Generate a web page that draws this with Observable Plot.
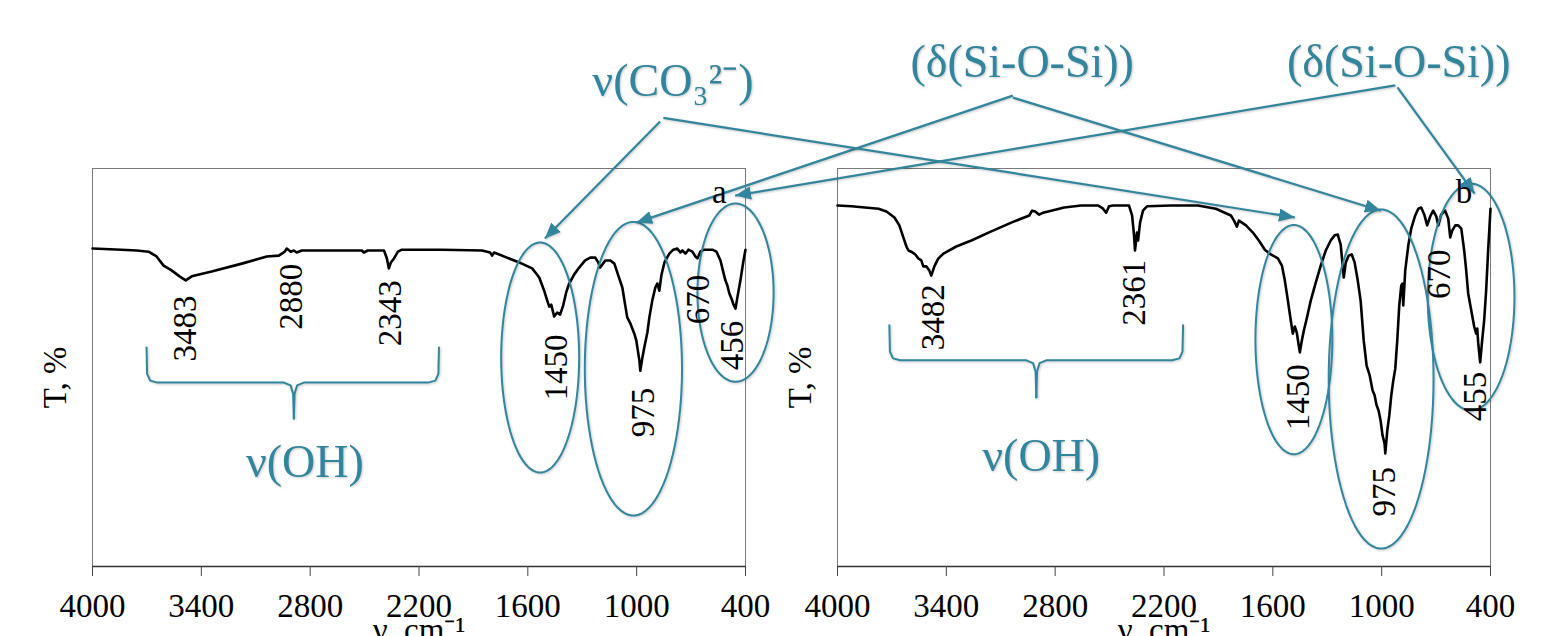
<!DOCTYPE html>
<html>
<head>
<meta charset="utf-8">
<script src="https://cdn.jsdelivr.net/npm/d3@7"></script>
<script src="https://cdn.jsdelivr.net/npm/@observablehq/plot@0.6"></script>
<style>
  html, body { margin: 0; padding: 0; background: #fff; }
</style>
</head>
<body>
<div id="chart"></div>
<script>
// ---------- data ----------
const panels = ["a", "b"];
const xTicks = [4000, 3400, 2800, 2200, 1600, 1000, 400];

// panel a spectrum (wavenumber, transmittance, arbitrary %)
const waveA = [4000,3840,3757,3691,3647,3608,3564,3520,3486,3453,
  3343,3177,3039,2973,2940,2929,2907,2890,2874,2846,
  2680,2515,2504,2482,2393,2377,2366,2355,2338,2316,
  2294,2073,1852,1808,1797,1786,1648,1576,1537,1510,
  1493,1482,1471,1455,1438,1422,1405,1389,1372,1344,
  1317,1284,1256,1228,1212,1201,1173,1145,1123,1101,
  1079,1063,1052,1035,1024,1013,1002,996,985,980,
  969,958,941,930,914,897,886,875,864,847,
  820,798,776,759,748,731,715,693,676,665,
  649,627,583,560,538,522,511,500,489,477,
  466,455,444,428,411,400];
const transA = [79.9,79.6,79.4,79.1,77.9,75.6,74.4,72.9,71.9,72.9,
  74.1,76.1,77.9,78.1,79.1,79.9,79.1,79.4,78.9,79.4,
  79.4,79.4,78.9,79.4,79.4,77.4,74.9,76.4,77.4,79.1,
  79.6,79.6,79.4,78.9,78.1,78.9,76.4,74.9,72.6,69.3,
  66.8,65.3,65.8,62.8,63.8,63.3,65.6,68.8,71.1,73.4,
  75.1,76.9,77.6,77.6,76.4,75.1,76.9,76.9,76.1,73.1,
  70.1,65.6,62.6,61.1,59.8,58.5,56.8,55.0,51.8,49.2,
  52.3,55.0,58.8,62.6,66.8,70.1,71.1,69.3,73.1,76.4,
  78.6,79.6,79.9,78.9,79.4,78.6,79.6,79.1,77.9,77.4,
  79.1,79.6,79.6,79.1,76.9,73.9,71.9,70.6,68.6,67.3,
  65.8,64.8,67.8,71.9,76.9,79.6];

// panel b spectrum
const waveB = [4000,3923,3774,3730,3686,3659,3637,3620,3609,3593,
  3571,3554,3538,3527,3510,3494,3483,3466,3444,3416,
  3345,3262,3152,3042,2971,2943,2927,2910,2888,2866,
  2750,2657,2563,2536,2519,2503,2481,2393,2376,2365,
  2360,2349,2343,2332,2316,2294,2161,2013,1914,1831,
  1814,1798,1787,1748,1710,1677,1644,1611,1572,1550,
  1534,1517,1501,1490,1479,1468,1457,1451,1440,1429,
  1413,1391,1363,1336,1308,1281,1259,1242,1226,1215,
  1209,1198,1182,1165,1149,1132,1116,1099,1083,1066,
  1050,1039,1028,1017,1006,995,984,980,969,958,
  947,936,925,914,903,892,886,881,870,853,
  837,815,798,782,765,749,732,716,699,688,
  672,650,633,622,611,594,578,561,545,534,
  523,506,490,479,473,468,457,446,435,424,
  413,400];
const transB = [90.7,90.5,89.9,89.2,87.7,85.7,82.7,80.4,79.4,79.1,
  78.4,77.4,76.9,75.4,75.4,74.4,73.1,75.4,77.4,78.6,
  80.4,81.9,84.2,86.4,87.7,88.2,89.4,89.2,88.4,88.9,
  90.2,90.7,90.7,89.9,88.9,90.5,90.7,90.7,88.2,83.2,
  79.4,83.9,81.9,86.4,89.4,90.5,90.7,90.7,89.9,88.2,
  86.9,85.4,86.9,85.7,83.9,81.9,79.6,78.4,77.4,75.6,
  71.9,66.8,61.8,58.5,60.3,58.8,55.5,53.8,56.8,59.3,
  62.3,66.8,71.4,75.6,79.4,81.9,83.2,83.4,80.9,75.6,
  72.6,76.4,78.1,78.4,76.4,71.9,66.8,56.8,50.5,48.0,
  44.2,43.0,40.5,39.2,36.7,32.9,30.9,28.4,34.2,37.9,
  43.0,46.7,49.7,56.8,65.6,70.6,71.1,65.6,74.4,80.7,
  84.9,88.2,89.9,90.2,88.4,85.7,88.0,89.4,88.0,85.7,
  88.4,89.4,87.4,82.7,84.4,85.7,85.7,84.9,79.4,74.4,
  68.6,64.3,60.3,58.5,59.8,56.3,51.3,56.8,61.8,69.3,
  79.4,89.9];

// peak labels (text, panel, wavenumber, T position of label)
const peakText  = ["3483","2880","2343","1450","975","670","456", "3482","2361","1450","975","670","455"];
const peakPanel = ["a","a","a","a","a","a","a", "b","b","b","b","b","b"];
const peakWn    = [3486,2901,2357,1444,960,662,472, 3469,2362,1457,983,681,482];
const peakT     = [59.8,67.8,63.6,50.0,38.7,67.1,55.5, 62.6,68.8,42.5,18.8,73.4,42.7];

// panel letters
const letterText = ["a","b"];
const letterWn   = [544, 546];
const letterT    = [93.9, 93.9];

// band annotations (teal)
const noteText  = ["ν(CO₃²⁻)", "(δ(Si-O-Si))", "(δ(Si-O-Si))", "ν(OH)", "ν(OH)"];
const notePanel = ["a", "b", "b", "a", "b"];
const noteWn    = [800, 2982, 906, 2829, 2877];
const noteT     = [118.3, 123.1, 123.1, 22.4, 24.1];

// ellipses around bands: panel, centre (wn, T), radii (wn, T)
const ellPanel = ["a","a","a","b","b","b"];
const ellCx = [1532, 1018, 455, 1484, 1003, 507];
const ellCy = [52.5, 49.7, 68.8, 57.0, 47.1, 67.7];
const ellRx = [215, 268, 210, 212, 289, 239];
const ellRy = [28.9, 36.9, 22.4, 28.8, 42.6, 28.5];

// arrows from the band labels to the ellipses
const arrPanel = ["a","b","a","b","a","b"];
const arrX1 = [871, 4960, -1074, 3033, -3182, 913];
const arrY1 = [111.8, 112.7, 118.3, 117.8, 120.9, 120.4];
const arrX2 = [1506, 1479, 1002, 1005, 457, 488];
const arrY2 = [82.4, 87.7, 86.4, 89.4, 93.2, 93.7];

// curly braces under the ν(OH) region: panel, left wn, right wn, centre wn, top T, line T, tip T
const brPanel = ["a","b"];
const brLeft  = [3702, 3714];
const brRight = [2090, 2095];
const brMid   = [2890, 2904];
const brTop   = [55.0, 60.6];
const brLine  = [46.2, 51.8];
const brTip   = [37.2, 42.5];

// ---------- tables ----------
const teal = "#31859C";
const FONT = "Liberation Serif";
const spectra = [
  ...waveA.map((w, i) => ({panel: "a", wn: w, T: transA[i]})),
  ...waveB.map((w, i) => ({panel: "b", wn: w, T: transB[i]}))
];
const peaks = peakText.map((t, i) => ({text: t, panel: peakPanel[i], wn: peakWn[i], T: peakT[i]}));
const letters = letterText.map((t, i) => ({text: t, panel: t, wn: letterWn[i], T: letterT[i]}));
const notes = noteText.map((t, i) => ({text: t, panel: notePanel[i], wn: noteWn[i], T: noteT[i]}));
const arrows = arrPanel.map((p, i) => ({panel: p, x1: arrX1[i], y1: arrY1[i], x2: arrX2[i], y2: arrY2[i]}));

const ellPts = ellPanel.flatMap((p, k) =>
  d3.range(0, 361, 4).map(a => ({
    panel: p, id: "e" + k,
    wn: ellCx[k] + ellRx[k] * Math.cos(a * Math.PI / 180),
    T: ellCy[k] + ellRy[k] * Math.sin(a * Math.PI / 180)
  })));

const bracePts = brPanel.flatMap((p, k) => {
  const L = brLeft[k], R = brRight[k], M = brMid[k], top = brTop[k], ln = brLine[k], tip = brTip[k];
  const half = (E, s, id) => [
    [E, top], [E - s * 3, ln + 2.2], [E - s * 20, ln + 0.5], [E - s * 60, ln],
    [M + s * 55, ln], [M + s * 18, ln - 0.7], [M + s * 4, ln - 2.8], [M, tip]
  ].map(([wn, T]) => ({panel: p, id, wn, T}));
  return [...half(L, 1, "l" + k), ...half(R, -1, "r" + k)];
});

// filled triangular arrow head
function triHead(color, context) {
  const doc = (context && context.document) || document;
  const ns = "http://www.w3.org/2000/svg";
  const m = doc.createElementNS(ns, "marker");
  m.setAttribute("viewBox", "-12 -5 12 10");
  m.setAttribute("markerWidth", "7.2");
  m.setAttribute("markerHeight", "6");
  m.setAttribute("orient", "auto");
  m.setAttribute("refX", "0");
  m.setAttribute("refY", "0");
  m.setAttribute("fill", color);
  m.setAttribute("stroke", "none");
  const path = doc.createElementNS(ns, "path");
  path.setAttribute("d", "M-12,-5L0,0L-12,5Z");
  m.appendChild(path);
  return m;
}

const shadow = "drop-shadow(1px 1.5px 1.2px rgba(0,0,0,0.22))";

function build(head) {
  return Plot.plot({
    width: 1548,
    height: 636,
    marginLeft: 91,
    marginRight: 58,
    marginTop: 168,
    marginBottom: 70,
    style: {background: "#fff"},
    fx: {domain: panels, paddingInner: 0.124, paddingOuter: 0, axis: null, label: null},
    x: {domain: [4000, 400], axis: null},
    y: {domain: [0, 100], axis: null},
    marks: [
      Plot.frame({stroke: "#7a7a7a", strokeWidth: 1}),
      Plot.ruleY([0], {stroke: "#333", strokeWidth: 1.5}),
      Plot.axisX({ticks: xTicks, tickFormat: d => String(d), tickSize: 10, tickPadding: 17,
                  fontSize: 33, fontFamily: FONT, fill: "#000", stroke: "#444", label: null}),
      Plot.text(["ν, cm⁻¹"], {x: 2200, y: -18.6, text: d => d, lineAnchor: "bottom", fontSize: 33, fontFamily: FONT, fill: "#000"}),
      Plot.text(["T, %"], {x: 4207, y: 47.5, text: d => d, rotate: -90, fontSize: 33, fontFamily: FONT, fill: "#000"}),
      Plot.line(spectra, {x: "wn", y: "T", fx: "panel", stroke: "#000", strokeWidth: 2.6,
                          strokeLinejoin: "round", strokeLinecap: "round"}),
      Plot.line(ellPts, {x: "wn", y: "T", z: "id", fx: "panel", stroke: teal, strokeWidth: 2, imageFilter: shadow}),
      Plot.line(bracePts, {x: "wn", y: "T", z: "id", fx: "panel", stroke: teal, strokeWidth: 2,
                           strokeLinejoin: "round", imageFilter: shadow}),
      Plot.link(arrows, {x1: "x1", y1: "y1", x2: "x2", y2: "y2", fx: "panel", stroke: teal,
                         strokeWidth: 2.2, markerEnd: head, imageFilter: shadow}),
      Plot.text(peaks, {x: "wn", y: "T", text: "text", fx: "panel", rotate: -90, fontSize: 33, fontFamily: FONT, fill: "#000"}),
      Plot.text(letters, {x: "wn", y: "T", text: "text", fx: "panel", fontSize: 33, fontFamily: FONT, fill: "#000"}),
      Plot.text(notes, {x: "wn", y: "T", text: "text", fx: "panel", fontSize: 46, fontFamily: FONT, fill: teal,
                        lineAnchor: "bottom", imageFilter: shadow})
    ]
  });
}

let chart;
try { chart = build(triHead); } catch (e) { chart = build("arrow"); }
document.getElementById("chart").appendChild(chart);
</script>
</body>
</html>
